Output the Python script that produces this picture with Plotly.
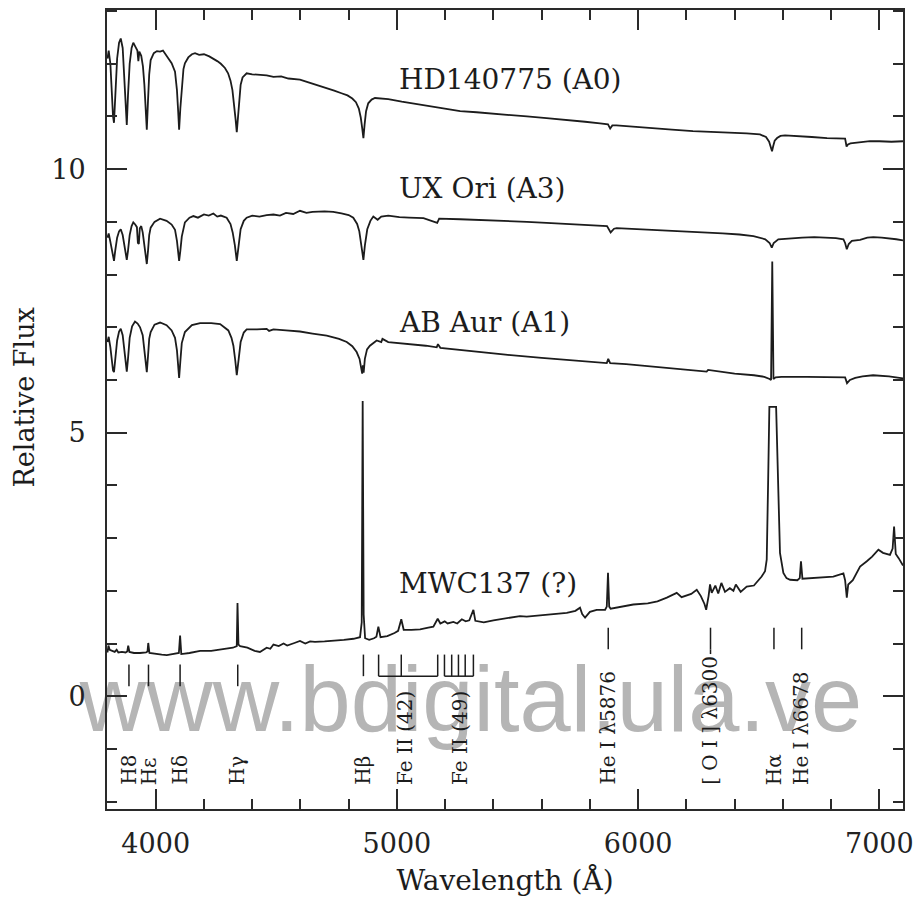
import plotly.graph_objects as go

# Spectra of Herbig Ae/Be candidates: (wavelength in Angstrom, relative flux, with vertical offsets)
HD140775 = [
    (3800, 12.10), (3805, 12.25), (3812, 12.00), (3818, 11.40), (3823, 11.00), (3827, 10.88),
    (3832, 11.40), (3840, 12.10), (3848, 12.40), (3855, 12.48), (3863, 12.30), (3870, 11.70),
    (3876, 11.20), (3880, 10.84), (3885, 11.40), (3892, 12.00), (3900, 12.30), (3907, 12.40),
    (3916, 12.32), (3924, 12.25), (3928, 12.05), (3932, 12.23), (3940, 12.15), (3947, 11.95),
    (3953, 11.60), (3958, 11.15), (3963, 10.75), (3968, 11.30), (3973, 11.80), (3979, 12.07),
    (3992, 12.20), (4005, 12.24), (4018, 12.23), (4030, 12.25), (4045, 12.15), (4058, 12.08),
    (4066, 12.01), (4080, 11.85), (4088, 11.50), (4093, 11.10), (4097, 10.75), (4102, 11.15),
    (4108, 11.60), (4115, 11.90), (4121, 12.01), (4135, 12.12), (4150, 12.18), (4163, 12.20),
    (4180, 12.17), (4200, 12.18), (4222, 12.14), (4239, 12.10), (4255, 12.05), (4270, 12.00),
    (4287, 11.92), (4300, 11.82), (4310, 11.68), (4318, 11.50), (4326, 11.20), (4331, 10.95),
    (4336, 10.70), (4341, 11.00), (4346, 11.35), (4352, 11.60), (4360, 11.74), (4377, 11.82),
    (4400, 11.80), (4430, 11.79), (4460, 11.78), (4488, 11.75), (4520, 11.76), (4550, 11.72),
    (4580, 11.71), (4598, 11.70), (4630, 11.65), (4660, 11.61), (4690, 11.56), (4709, 11.54),
    (4740, 11.49), (4770, 11.44), (4795, 11.40), (4815, 11.34), (4830, 11.27), (4842, 11.15),
    (4850, 10.98), (4856, 10.78), (4861, 10.59), (4866, 10.85), (4872, 11.10), (4881, 11.25),
    (4895, 11.32), (4909, 11.35), (4935, 11.34), (4964, 11.33), (5020, 11.28), (5083, 11.23),
    (5170, 11.17), (5262, 11.10), (5330, 11.08), (5400, 11.05), (5470, 11.03), (5539, 11.00),
    (5620, 10.97), (5700, 10.94), (5780, 10.90), (5842, 10.87), (5875, 10.85), (5884, 10.77),
    (5893, 10.83), (5910, 10.83), (5980, 10.81), (6060, 10.78), (6140, 10.75), (6227, 10.72),
    (6300, 10.71), (6380, 10.70), (6450, 10.68), (6505, 10.66), (6530, 10.61), (6543, 10.52),
    (6550, 10.40), (6555, 10.34), (6560, 10.44), (6566, 10.54), (6576, 10.59), (6590, 10.63),
    (6609, 10.64), (6660, 10.63), (6720, 10.61), (6783, 10.59), (6830, 10.59), (6858, 10.58),
    (6864, 10.43), (6870, 10.47), (6880, 10.49), (6900, 10.50), (6930, 10.52), (6961, 10.53),
    (7000, 10.53), (7050, 10.52), (7098, 10.53),
]

UX_ORI = [
    (3800, 8.70), (3805, 8.78), (3812, 8.62), (3818, 8.45), (3823, 8.30), (3827, 8.26),
    (3832, 8.45), (3840, 8.70), (3848, 8.82), (3855, 8.86), (3863, 8.75), (3870, 8.55),
    (3876, 8.35), (3880, 8.28), (3885, 8.45), (3892, 8.75), (3900, 8.92), (3907, 8.99),
    (3915, 8.95), (3922, 8.90), (3926, 8.60), (3930, 8.58), (3934, 8.88), (3940, 8.92),
    (3946, 8.80), (3953, 8.58), (3958, 8.38), (3963, 8.20), (3968, 8.45), (3973, 8.75),
    (3979, 8.89), (3995, 9.00), (4018, 9.06), (4045, 9.02), (4066, 8.95), (4080, 8.85),
    (4088, 8.64), (4093, 8.42), (4097, 8.26), (4102, 8.45), (4108, 8.72), (4121, 8.99),
    (4140, 9.08), (4156, 9.11), (4175, 9.08), (4200, 9.14), (4220, 9.12), (4239, 9.16),
    (4255, 9.10), (4270, 9.12), (4294, 9.08), (4310, 8.96), (4319, 8.80), (4328, 8.56),
    (4336, 8.26), (4344, 8.56), (4352, 8.86), (4365, 9.02), (4377, 9.08), (4400, 9.12),
    (4430, 9.10), (4460, 9.13), (4488, 9.14), (4515, 9.12), (4540, 9.17), (4570, 9.15),
    (4598, 9.21), (4625, 9.17), (4650, 9.19), (4700, 9.20), (4736, 9.19), (4770, 9.16),
    (4800, 9.13), (4819, 9.08), (4835, 8.96), (4844, 8.82), (4852, 8.58), (4861, 8.28),
    (4867, 8.55), (4877, 8.86), (4890, 9.02), (4902, 9.10), (4920, 9.04), (4935, 9.10),
    (4964, 9.12), (5010, 9.09), (5050, 9.08), (5110, 9.07), (5167, 8.98), (5175, 9.06),
    (5262, 9.05), (5330, 9.04), (5400, 9.02), (5470, 9.01), (5539, 9.00), (5620, 8.98),
    (5700, 8.96), (5790, 8.94), (5871, 8.92), (5886, 8.80), (5900, 8.87), (5911, 8.88),
    (6000, 8.86), (6100, 8.84), (6229, 8.82), (6300, 8.80), (6350, 8.78), (6420, 8.76),
    (6478, 8.73), (6527, 8.67), (6545, 8.60), (6554, 8.51), (6562, 8.60), (6581, 8.67),
    (6630, 8.69), (6680, 8.70), (6730, 8.71), (6782, 8.70), (6820, 8.69), (6851, 8.67),
    (6858, 8.60), (6865, 8.48), (6873, 8.58), (6886, 8.64), (6920, 8.66), (6950, 8.70),
    (6975, 8.71), (7010, 8.70), (7040, 8.69), (7070, 8.67), (7098, 8.65),
]

AB_AUR = [
    (3800, 6.72), (3805, 6.82), (3812, 6.62), (3818, 6.36), (3823, 6.18), (3827, 6.15),
    (3832, 6.40), (3840, 6.75), (3848, 6.92), (3855, 6.97), (3863, 6.85), (3870, 6.55),
    (3876, 6.26), (3880, 6.16), (3885, 6.40), (3892, 6.80), (3902, 7.02), (3914, 7.11),
    (3925, 7.07), (3935, 7.00), (3946, 6.85), (3953, 6.60), (3958, 6.36), (3963, 6.15),
    (3968, 6.45), (3973, 6.78), (3979, 6.91), (3995, 7.05), (4018, 7.09), (4045, 7.04),
    (4066, 6.94), (4080, 6.80), (4088, 6.56), (4093, 6.26), (4097, 6.04), (4102, 6.35),
    (4108, 6.70), (4121, 6.91), (4150, 7.04), (4184, 7.08), (4230, 7.08), (4267, 7.06),
    (4290, 6.99), (4301, 6.94), (4314, 6.80), (4322, 6.65), (4330, 6.36), (4336, 6.09),
    (4344, 6.40), (4352, 6.72), (4365, 6.90), (4377, 6.96), (4420, 6.96), (4460, 6.97),
    (4470, 6.93), (4488, 6.96), (4540, 6.94), (4598, 6.92), (4650, 6.88), (4709, 6.84),
    (4760, 6.78), (4792, 6.72), (4815, 6.64), (4833, 6.53), (4845, 6.40), (4852, 6.25),
    (4856, 6.12), (4859, 6.28), (4862, 6.14), (4867, 6.40), (4876, 6.58), (4888, 6.65),
    (4916, 6.75), (4935, 6.72), (4940, 6.78), (4964, 6.72), (5040, 6.69), (5120, 6.65),
    (5165, 6.62), (5170, 6.68), (5180, 6.61), (5300, 6.55), (5450, 6.48), (5600, 6.42),
    (5750, 6.36), (5870, 6.32), (5876, 6.40), (5884, 6.32), (5950, 6.30), (6100, 6.24),
    (6200, 6.20), (6284, 6.16), (6290, 6.19), (6400, 6.12), (6480, 6.09), (6523, 6.06),
    (6545, 6.02), (6551, 6.00), (6556, 8.25), (6561, 6.02), (6570, 6.05), (6594, 6.06),
    (6700, 6.06), (6800, 6.06), (6858, 6.05), (6866, 5.94), (6878, 6.00), (6900, 6.04),
    (6930, 6.07), (6974, 6.09), (7010, 6.08), (7040, 6.07), (7098, 6.03),
]

MWC137 = [
    (3800, 0.83), (3804, 0.96), (3809, 0.88), (3818, 0.86), (3830, 0.84), (3838, 0.88),
    (3845, 0.83), (3860, 0.84), (3875, 0.83), (3882, 0.85), (3886, 0.96), (3891, 0.84),
    (3910, 0.82), (3935, 0.82), (3960, 0.83), (3966, 0.85), (3969, 1.01), (3974, 0.82),
    (4000, 0.80), (4025, 0.79), (4046, 0.78), (4075, 0.80), (4096, 0.82), (4101, 1.15),
    (4106, 0.80), (4140, 0.82), (4165, 0.84), (4184, 0.86), (4230, 0.86), (4260, 0.88),
    (4294, 0.89), (4320, 0.92), (4336, 0.95), (4339, 1.77), (4343, 0.98), (4350, 0.95),
    (4380, 0.92), (4410, 0.86), (4432, 0.84), (4460, 0.92), (4475, 0.90), (4488, 0.98),
    (4510, 0.95), (4530, 1.00), (4545, 0.96), (4560, 0.99), (4575, 1.01), (4598, 1.05),
    (4620, 1.00), (4640, 1.04), (4660, 1.03), (4700, 1.04), (4736, 1.05), (4780, 1.07),
    (4820, 1.09), (4847, 1.12), (4854, 1.40), (4858, 5.60), (4862, 1.55), (4868, 1.10),
    (4885, 1.07), (4905, 1.10), (4915, 1.13), (4923, 1.32), (4932, 1.12), (4960, 1.14),
    (4990, 1.20), (5005, 1.24), (5018, 1.46), (5028, 1.26), (5060, 1.26), (5096, 1.27),
    (5130, 1.30), (5151, 1.32), (5169, 1.47), (5180, 1.38), (5198, 1.42), (5210, 1.38),
    (5234, 1.41), (5250, 1.38), (5269, 1.46), (5285, 1.42), (5300, 1.44), (5317, 1.64),
    (5325, 1.43), (5360, 1.40), (5400, 1.44), (5428, 1.46), (5470, 1.48), (5510, 1.52),
    (5538, 1.51), (5600, 1.54), (5660, 1.56), (5704, 1.58), (5740, 1.62), (5759, 1.68),
    (5768, 1.56), (5780, 1.49), (5800, 1.60), (5828, 1.64), (5863, 1.64), (5870, 1.70),
    (5875, 2.34), (5880, 1.70), (5886, 1.66), (5930, 1.70), (5980, 1.74), (6040, 1.76),
    (6080, 1.80), (6119, 1.87), (6160, 1.96), (6180, 1.88), (6220, 1.94), (6243, 2.02),
    (6260, 1.90), (6275, 1.75), (6282, 1.64), (6292, 1.90), (6298, 2.12), (6305, 1.96),
    (6320, 2.10), (6332, 1.95), (6345, 2.15), (6360, 1.98), (6380, 2.05), (6395, 2.00),
    (6405, 2.12), (6425, 1.98), (6450, 2.08), (6480, 2.10), (6500, 2.20), (6512, 2.27),
    (6526, 2.37), (6533, 2.59), (6539, 4.10), (6544, 5.49), (6572, 5.49), (6581, 3.79),
    (6588, 2.72), (6602, 2.34), (6615, 2.24), (6630, 2.21), (6660, 2.20), (6670, 2.24),
    (6675, 2.56), (6681, 2.23), (6720, 2.24), (6760, 2.25), (6809, 2.27), (6851, 2.33),
    (6858, 2.20), (6865, 1.87), (6871, 2.12), (6890, 2.20), (6920, 2.46), (6948, 2.56),
    (6970, 2.65), (6996, 2.78), (7015, 2.72), (7044, 2.68), (7055, 2.80), (7061, 3.22),
    (7068, 2.70), (7080, 2.62), (7093, 2.50), (7098, 2.48),
]

STAR_NAMES = ["HD140775 (A0)", "UX Ori (A3)", "AB Aur (A1)", "MWC137 (?)"]
STAR_LABEL_FLUX = [11.70, 9.64, 7.09, 2.14]
STAR_LABEL_WL = 5000

# Line identifications marked under the MWC137 spectrum
BALMER_BLUE_WL = [3889, 3970, 4101, 4340]
HBETA_WL = [4861]
FE42_WL = [4924, 5018, 5169]
FE49_WL = [5197, 5227, 5255, 5283, 5317]
RED_LINES_WL = [5876, 6300, 6563, 6678]

ID_LABELS = ["H8", "Hε", "Hδ", "Hγ", "Hβ", "Fe II (42)", "Fe II (49)",
             "He I λ5876", "[ O I ] λ6300", "Hα", "He I λ6678"]
ID_LABEL_WL = [3889, 3970, 4101, 4340, 4861, 5034, 5262, 5876, 6300, 6563, 6678]

WATERMARK = "www.bdigital.ula.ve"

INK = "#1c1c1c"
SERIF = "DejaVu Serif"

fig = go.Figure()

# repository stamp, laid down first so everything else sits on top of it
fig.add_trace(go.Scatter(x=[5307], y=[-0.22], mode="text", text=[WATERMARK],
                         textposition="middle center", cliponaxis=False,
                         textfont=dict(family="Liberation Sans", size=92, color="#b5b5b5"),
                         hoverinfo="skip", showlegend=False))

for spec in (HD140775, UX_ORI, AB_AUR, MWC137):
    wl, flux = zip(*spec)
    fig.add_trace(go.Scatter(x=list(wl), y=list(flux), mode="lines",
                             line=dict(color=INK, width=1.8), hoverinfo="skip",
                             showlegend=False))


def tick_segments(wls, lo, hi):
    xs, ys = [], []
    for w in wls:
        xs += [w, w, None]
        ys += [lo, hi, None]
    return xs, ys


# identification ticks
seg_x, seg_y = [], []
for wls, lo, hi in ((BALMER_BLUE_WL, 0.19, 0.60),
                    (HBETA_WL, 0.38, 0.79),
                    (FE42_WL, 0.38, 0.79),
                    (FE49_WL, 0.38, 0.79),
                    (RED_LINES_WL, 0.89, 1.30)):
    xs, ys = tick_segments(wls, lo, hi)
    seg_x += xs
    seg_y += ys
# brackets joining the Fe II multiplets
for group in (FE42_WL, FE49_WL):
    seg_x += [group[0], group[-1], None]
    seg_y += [0.38, 0.38, None]
# [O I] mark runs down to its label
seg_x += [RED_LINES_WL[1], RED_LINES_WL[1], None]
seg_y += [0.89, 0.80, None]

fig.add_trace(go.Scatter(x=seg_x, y=seg_y, mode="lines",
                         line=dict(color=INK, width=1.5), hoverinfo="skip",
                         showlegend=False))

annotations = [
    # y-axis title, placed by hand so it sits where the original caption does
    dict(text="Relative Flux", xref="paper", yref="paper", x=-0.103, y=0.515,
         textangle=-90, xanchor="center", yanchor="middle", showarrow=False,
         font=dict(family=SERIF, size=27, color=INK)),
]
for name, fy in zip(STAR_NAMES, STAR_LABEL_FLUX):
    annotations.append(dict(text=name, x=STAR_LABEL_WL, y=fy, xanchor="left",
                            yanchor="middle", showarrow=False,
                            font=dict(family=SERIF, size=28, color=INK)))
for lab, w in zip(ID_LABELS, ID_LABEL_WL):
    annotations.append(dict(text=lab, x=w, y=-1.72, textangle=-90, xanchor="center",
                            yanchor="bottom", showarrow=False,
                            font=dict(family=SERIF, size=20, color=INK)))

axis_common = dict(
    showline=True, linewidth=2, linecolor="#2a2a2a", mirror="ticks",
    ticks="inside", ticklen=20, tickwidth=1.5, tickcolor="#2a2a2a",
    showgrid=False, zeroline=False,
    tickfont=dict(family=SERIF, size=27, color="#222"),
)

fig.update_xaxes(
    range=[3798, 7098], dtick=1000, tick0=0,
    minor=dict(dtick=200, tick0=0, ticks="inside", ticklen=10, tickwidth=1.5,
               tickcolor="#2a2a2a", showgrid=False),
    ticklabelstandoff=10,
    title=dict(text="Wavelength (Å)", font=dict(family=SERIF, size=28, color=INK),
               standoff=12),
    **axis_common,
)
fig.update_yaxes(
    range=[-2.14, 13.02], dtick=5, tick0=0,
    minor=dict(dtick=1, tick0=0, ticks="inside", ticklen=10, tickwidth=1.5,
               tickcolor="#2a2a2a", showgrid=False),
    ticklabelstandoff=14,
    **axis_common,
)

fig.update_layout(
    width=922, height=899,
    margin=dict(l=107, r=19, t=8, b=89),
    paper_bgcolor="white", plot_bgcolor="white",
    annotations=annotations,
    showlegend=False,
)

fig.write_html("out.html")
